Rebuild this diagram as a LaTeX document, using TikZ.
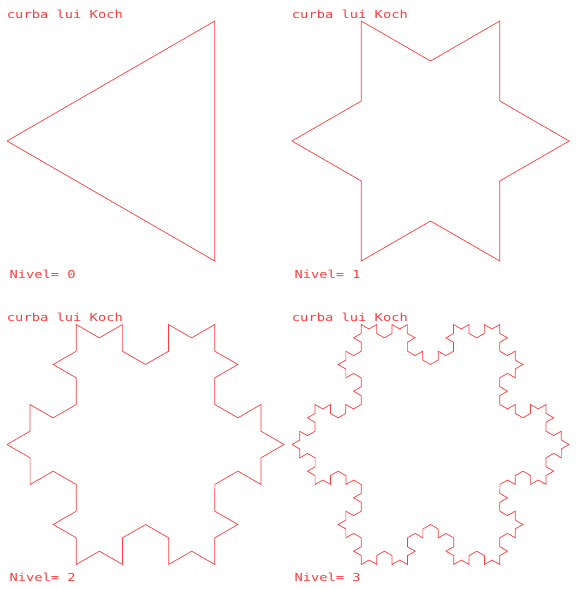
\documentclass[tikz,border=0pt]{standalone}
\usepackage{fontspec}
\setmonofont{DejaVu Sans Mono}
\usetikzlibrary{decorations.fractals}
\definecolor{kochred}{RGB}{255,60,60}

\begin{document}
\begin{tikzpicture}[x=1pt,y=-1pt,decoration=Koch snowflake,
  koch/.style={draw=kochred,line width=0.7pt,line join=miter},
  lbl/.style={anchor=base west,inner sep=0pt,text=kochred,font=\ttfamily\fontsize{11}{11}\selectfont,xscale=1.25}]
\useasboundingbox[fill=white] (0,0) rectangle (576,589);
% titles and levels
\foreach \dx/\dy/\n in {0/0/0,285/0/1,0/303.5/2,285/303.5/3} {
  \node[lbl] (title\n) at (6.7+\dx,18+\dy) {curba lui Koch};
  \node[lbl] (nivel\n) at (9.3+\dx,278.3+\dy) {Nivel= \n};
}
% the four curves
\draw[koch] (7,141) -- (214.8,21) -- (214.8,261) -- (7,141);
\draw[koch] decorate{(292,141) -- (499.8,21) -- (499.8,261) -- (292,141)};
\draw[koch] decorate{decorate{(7,444.5) -- (214.8,324.5) -- (214.8,564.5) -- (7,444.5)}};
\draw[koch] decorate{decorate{decorate{(292,444.5) -- (499.8,324.5) -- (499.8,564.5) -- (292,444.5)}}};
\end{tikzpicture}
\end{document}
